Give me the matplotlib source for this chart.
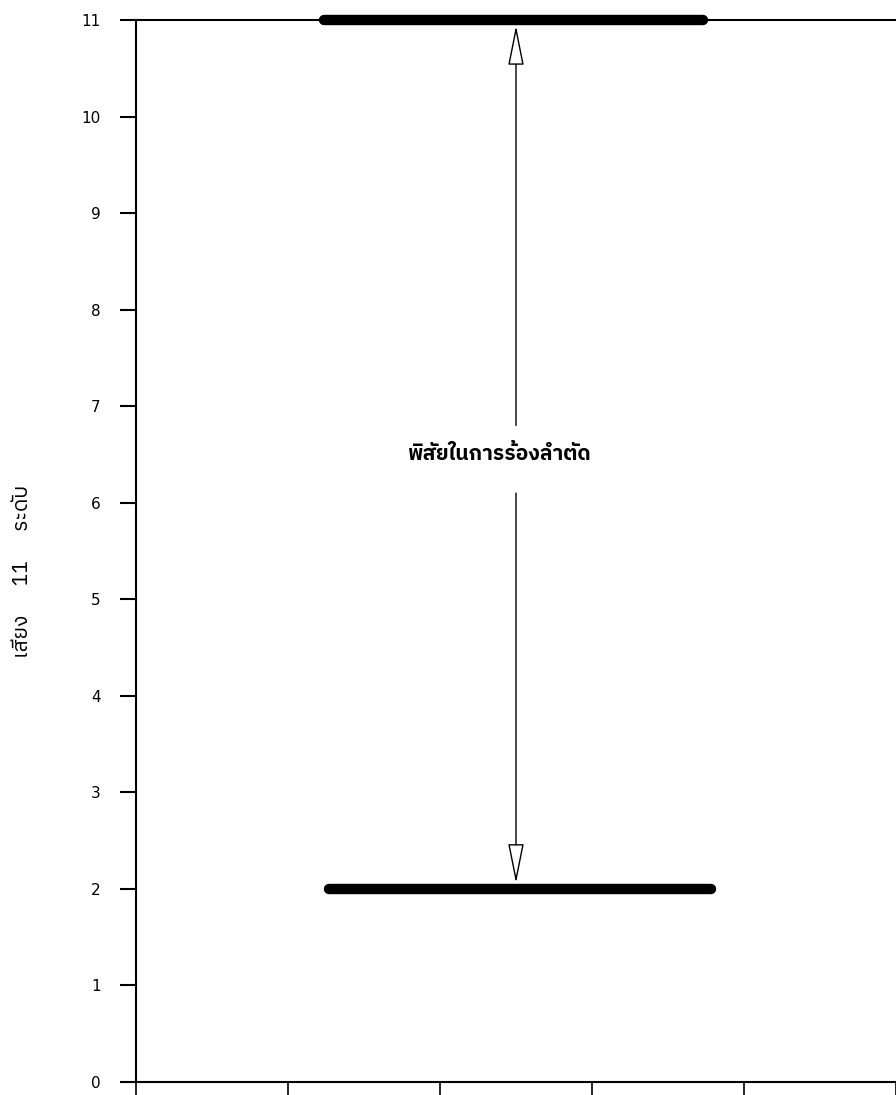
import matplotlib
matplotlib.use('Agg')
import matplotlib.pyplot as plt

# ── Data ──────────────────────────────────────────────────────────────
range_levels = [11, 2]            # upper / lower pitch level
range_x_start = [1.24, 1.27]
range_x_end = [3.73, 3.78]
arrow_x = 2.5
y_ticks = list(range(0, 12))
x_ticks = [0, 1, 2, 3, 4, 5]

THAI = ['IBM Plex Sans Thai', 'DejaVu Sans']

fig = plt.figure(figsize=(8.96, 10.95), dpi=100)
fig.patch.set_facecolor('white')
ax = fig.add_axes([136 / 896, 13 / 1095, 760 / 896, 1062 / 1095])
ax.set_xlim(0, 5)
ax.set_ylim(0, 11)

ax.spines['right'].set_visible(False)
for side in ('left', 'top', 'bottom'):
    ax.spines[side].set_linewidth(1.5)

ax.set_yticks(y_ticks)
ax.set_yticklabels([str(v) for v in y_ticks], fontsize=11, family='DejaVu Sans')
ax.set_xticks(x_ticks)
ax.set_xticklabels([])
ax.tick_params(axis='y', direction='out', length=11.5, width=1.5, pad=14)
ax.tick_params(axis='x', direction='out', length=10, width=1.2)

# ── Range bars ────────────────────────────────────────────────────────
for lvl, x0, x1 in zip(range_levels, range_x_start, range_x_end):
    ax.plot([x0, x1], [lvl, lvl], color='black', lw=7.5,
            solid_capstyle='round', clip_on=False, zorder=4)

# ── Double arrow with label gap ───────────────────────────────────────
y_gap_top, y_gap_bot = 6.80, 6.10
arrow_kw = dict(arrowstyle='-|>,head_length=1.25,head_width=0.25',
                mutation_scale=20, color='black', lw=1.0,
                fc='white', shrinkA=0, shrinkB=0)
ax.annotate('', xy=(arrow_x, range_levels[0] - 0.06), xytext=(arrow_x, y_gap_top),
            arrowprops=arrow_kw, zorder=5)
ax.annotate('', xy=(arrow_x, range_levels[1] + 0.06), xytext=(arrow_x, y_gap_bot),
            arrowprops=arrow_kw, zorder=5)

ax.text(2.39, 6.50, 'พิสัยในการร้องลำตัด', ha='center', va='center',
        fontsize=15, fontweight='bold', family=THAI)

# ── Y axis label ──────────────────────────────────────────────────────
fig.text(22 / 896, 1 - 571 / 1095, 'เสียง      11      ระดับ', rotation=90,
         ha='center', va='center', fontsize=15, family=THAI)

fig.savefig('out.png', dpi=100)
